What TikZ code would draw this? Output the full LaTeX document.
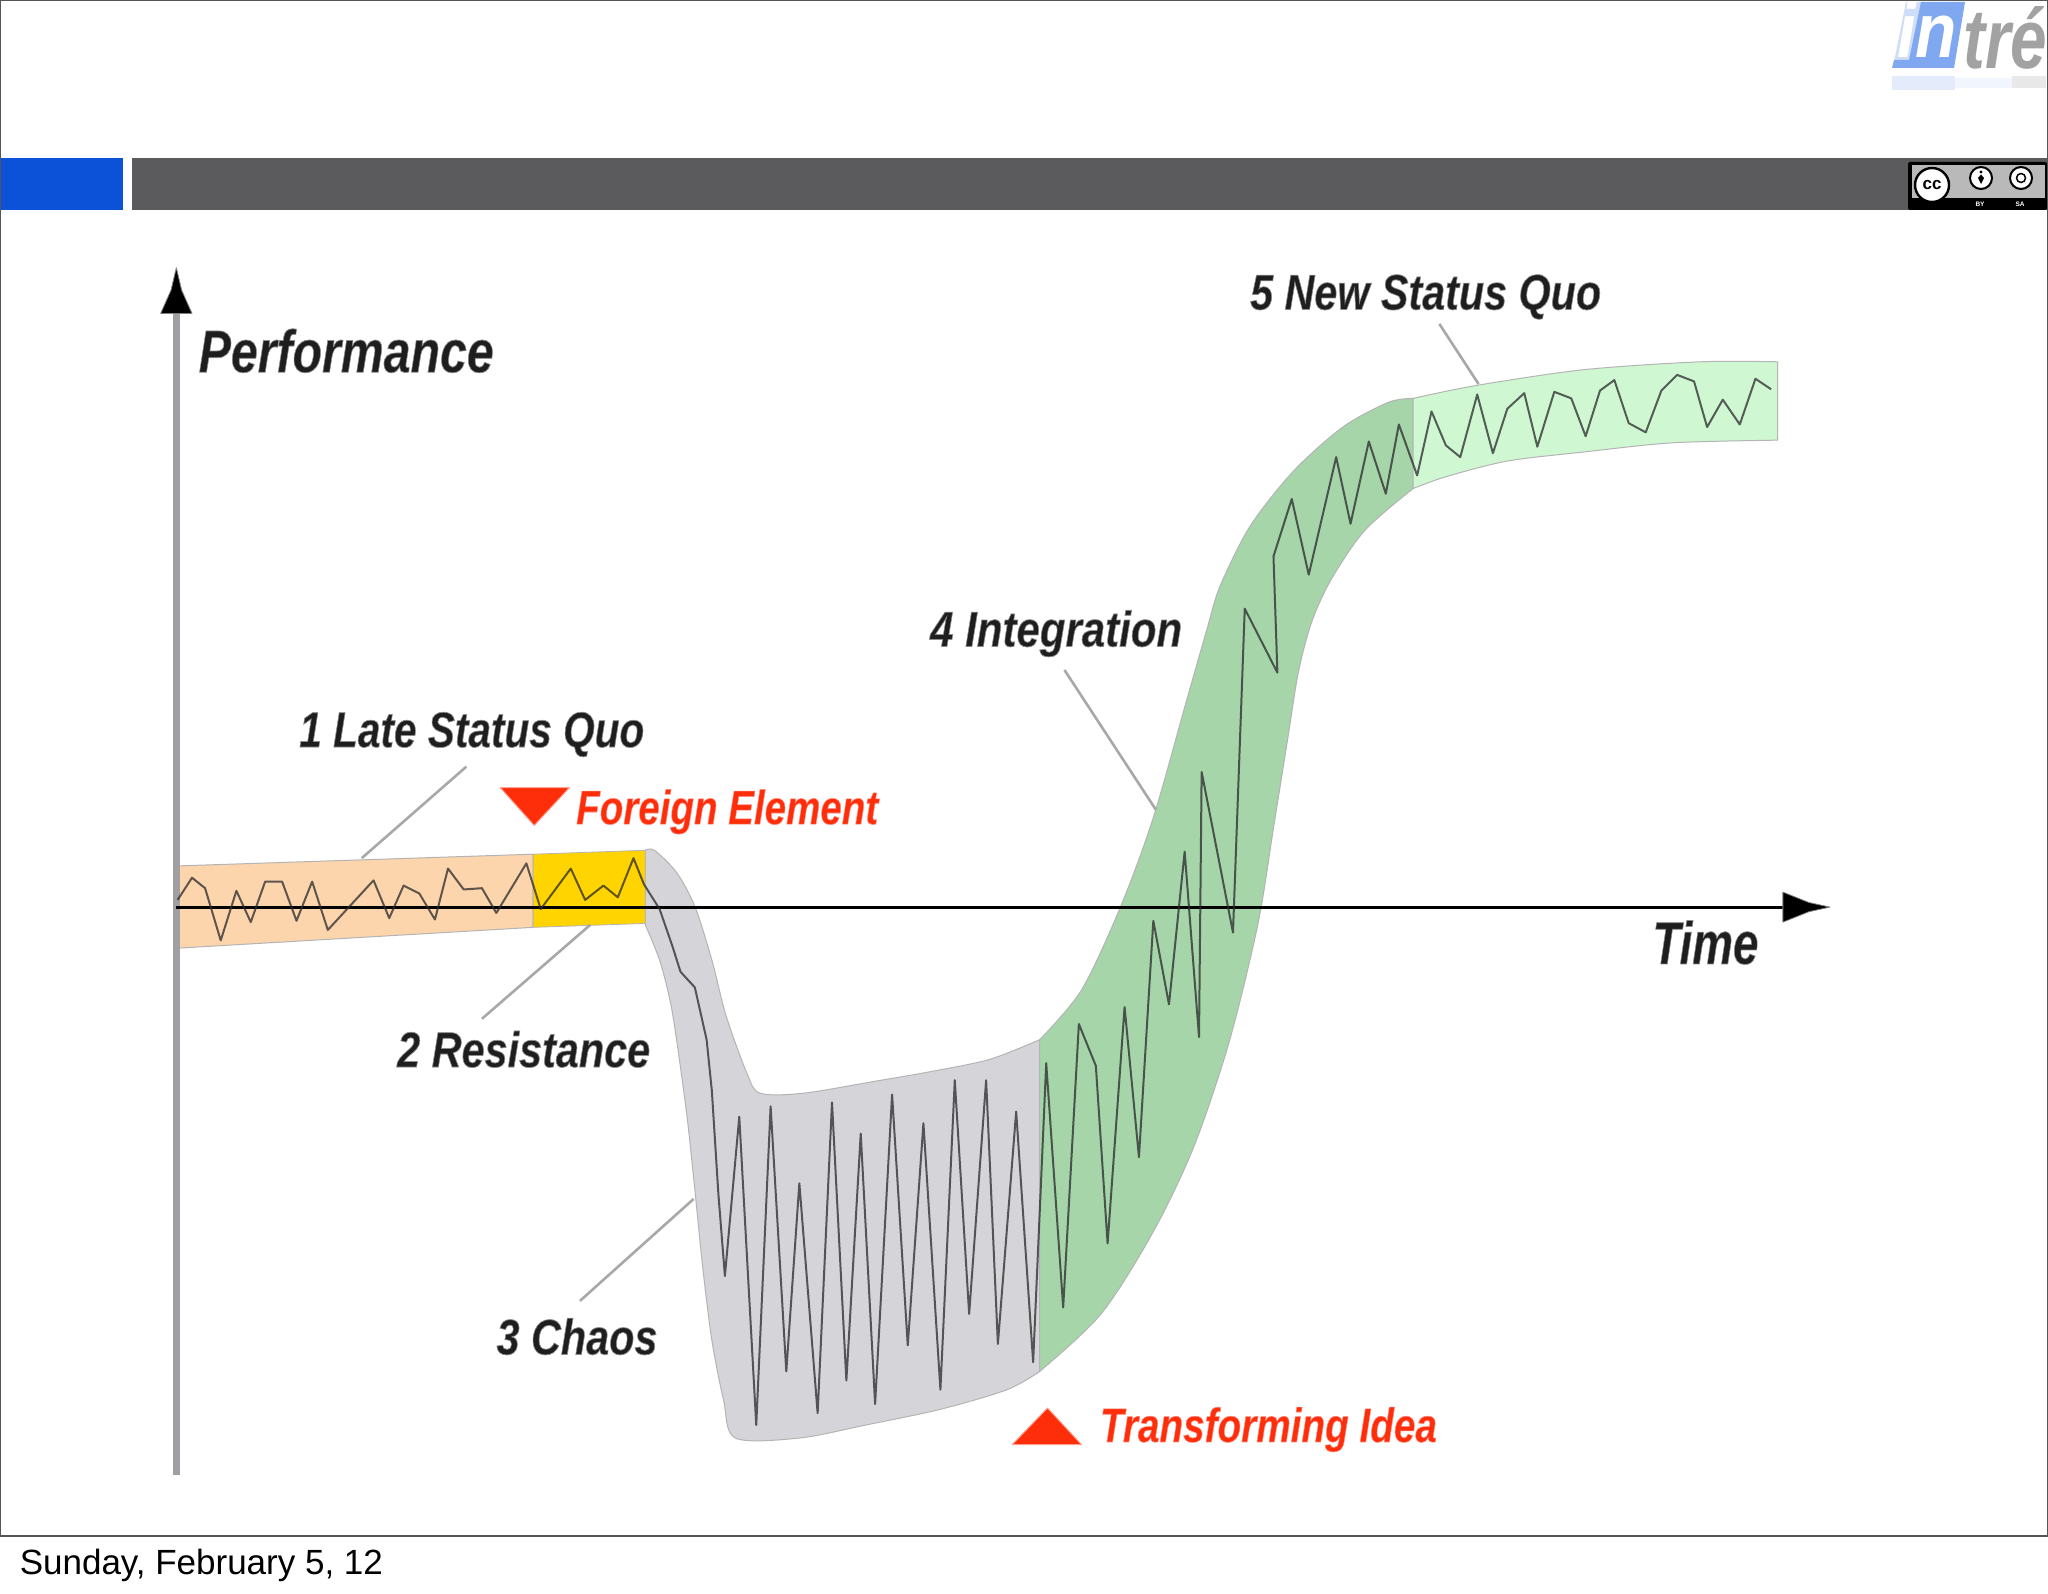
\documentclass[tikz,border=0pt]{standalone}
\usepackage{fontspec}
\usepackage{graphicx}
\setmainfont{Liberation Sans}
\definecolor{framec}{HTML}{555555}
\definecolor{barblue}{HTML}{0B52D8}
\definecolor{bargray}{HTML}{5B5A5C}
\definecolor{axisgray}{HTML}{A09FA3}
\definecolor{orangeb}{HTML}{FCD5AC}
\definecolor{yellowb}{HTML}{FFD400}
\definecolor{grayb}{HTML}{D5D4D8}
\definecolor{greenb}{HTML}{A5D5A8}
\definecolor{lgreenb}{HTML}{CFF8D2}
\definecolor{redc}{HTML}{FF2E0A}
\definecolor{wavec}{HTML}{2A2A2C}
\definecolor{bandedge}{HTML}{B4B4B4}
\definecolor{leader}{HTML}{A8A8A8}
\definecolor{inkfill}{HTML}{1E1E1E}
\definecolor{logoblue}{HTML}{7FA8F0}
\definecolor{logopale}{HTML}{CFDDF8}
\definecolor{logogray}{HTML}{A2A2A2}
\newcommand{\hollowon}{\special{pdf:code 2 Tr 0.75 w 0.55 0.55 0.55 RG}}
\newcommand{\redon}{\special{pdf:code 2 Tr 0.6 w 1 0.55 0.5 RG}}
\newcommand{\hollowoff}{\special{pdf:code 0 Tr 0 0 0 RG}}
\newcommand{\inklabel}[3]{\resizebox{#1pt}{\height}{\fontsize{#2}{#2}\selectfont\bfseries\itshape\hollowon #3\hollowoff}}
\newcommand{\redlabel}[3]{\resizebox{#1pt}{\height}{\fontsize{#2}{#2}\selectfont\bfseries\itshape\redon #3\hollowoff}}
\tikzset{
  x=1.30612pt,y=-1.30612pt,
  band/.style={draw=bandedge,line width=1pt,line join=round},
  wave/.style={draw=wavec,line width=2pt,opacity=.75,line join=round},
  leaderline/.style={draw=leader,line width=2.6pt},
  lab/.style={inner sep=0pt,anchor=base west,text=inkfill},
  redlab/.style={inner sep=0pt,anchor=base west,text=redc},
  redtri/.style={fill=redc,draw=redc!45,line width=1pt,line join=round},
  tipstyle/.style={fill=black,draw=gray,line width=.8pt,line join=round}
}
\begin{document}
\begin{tikzpicture}
\useasboundingbox (0,0) rectangle (1568,1219.66);
\fill[white] (0,0) rectangle (1568,1219.66);
% logo (full-size pixels)
\begin{scope}[x=1pt,y=-1pt]
 \fill[logopale!55] (1892,76) rectangle (1955,90);
 \fill[gray!18] (2012,76) rectangle (2046,88);
 \fill[logopale!30] (1955,78) rectangle (2012,88);
 \fill[logopale] (1906,2) -- (1925,2) -- (1912,62) -- (1894,62) -- cycle;
 \fill[logoblue] (1921,2) -- (1965,2) -- (1954,68) -- (1892,68) -- (1894,60) -- (1909,60) -- cycle;
 \node[inner sep=0pt,anchor=base west,text=white] (logoin) at (1897,58) {\resizebox{60pt}{56pt}{\bfseries\itshape in}};
 \node[inner sep=0pt,anchor=base west,text=logogray] (logotre) at (1963,69) {\resizebox{84pt}{62pt}{\bfseries\itshape tré}};
\end{scope}
% header bars
\fill[barblue] (0,121) rectangle (94,160.5);
\fill[bargray] (101,121) rectangle (1568,160.5);
% cc badge (full-size pixels)
\begin{scope}[x=1pt,y=-1pt]
 \fill[black,rounded corners=2pt] (1908,162) rectangle (2047,210);
 \fill[gray!55!white] (1912,165) rectangle (2045,198);
 \node[circle,draw=black,line width=2.4pt,fill=white,minimum size=34pt,inner sep=0pt,font=\fontsize{17}{17}\selectfont\bfseries] (cc) at (1932,185) {cc};
 \node[circle,draw=black,line width=2pt,fill=white,minimum size=22pt,inner sep=0pt] (by) at (1981,178) {};
 \fill[black] (1981,172) circle (1.6pt);
 \fill[black] (1981,174.5) -- (1984,178) -- (1981,184) -- (1978,178) -- cycle;
 \node[circle,draw=black,line width=2pt,fill=white,minimum size=22pt,inner sep=0pt] (sa) at (2021,178) {};
 \draw[black,line width=1.5pt] (sa) circle (4.5pt);
 \node[text=white,inner sep=0pt,font=\fontsize{6.5}{6.5}\selectfont\bfseries] (bylab) at (1980,204) {BY};
 \node[text=white,inner sep=0pt,font=\fontsize{6.5}{6.5}\selectfont\bfseries] (salab) at (2020,204) {SA};
\end{scope}
% frame
\draw[framec,line width=1.6pt] (0.5,0.5) -- (1567.5,0.5) -- (1567.5,1176) -- (0.5,1176) -- cycle;
% bands
\draw[band,fill=grayb] plot[smooth,tension=.5] coordinates {(494,651) (501,651) (518,668) (532,694) (545,735) (556,778) (572,822) (582,837) (615,837) (669,828) (715,820) (758,811) (796,796)}
 -- plot[smooth,tension=.5] coordinates {(796,1050) (771,1064) (720,1079) (663,1091) (612,1101) (563,1101) (554,1072) (545,1026) (538,970) (532,911) (526,855) (518,796) (513,766) (505,735) (494,708)} -- cycle;
\draw[band,fill=greenb] plot[smooth,tension=.5] coordinates {(796,796) (828,758) (858,694) (883,626) (908,538) (924,482) (934,449) (957,403) (990,361) (1028,327) (1063,308) (1082,305)}
 -- plot[smooth,tension=.5] coordinates {(1082,374) (1045,406) (1019,444) (1004,477) (994,515) (986,565) (975,634) (963,708) (941,798) (914,878) (883,943) (843,1006) (796,1050)} -- cycle;
\draw[band,fill=lgreenb] plot[smooth,tension=.5] coordinates {(1082,305) (1131,295) (1213,283) (1302,277) (1361,277)}
 -- (1361,337) -- plot[smooth,tension=.5] coordinates {(1361,337) (1281,339) (1213,346) (1154,353) (1107,365) (1082,374)} -- cycle;
\fill[yellowb,draw=bandedge,line width=.8pt] (408,654) -- (494,651) -- (494,707) -- (408,710) -- cycle;
\draw[band,fill=orangeb] (135,663) -- (408,654) -- (408,710) -- (135,726) -- cycle;
% leaders
\coordinate (l1a) at (357,587); \coordinate (l1b) at (277,657);
\coordinate (l2a) at (369,780); \coordinate (l2b) at (452,708);
\coordinate (l3a) at (444,996); \coordinate (l3b) at (531,918);
\coordinate (l4a) at (815,513); \coordinate (l4b) at (885,620);
\coordinate (l5a) at (1102,248); \coordinate (l5b) at (1132,294);
\draw[leaderline] (l1a) -- (l1b);
\draw[leaderline] (l2a) -- (l2b);
\draw[leaderline] (l3a) -- (l3b);
\draw[leaderline] (l4a) -- (l4b);
\draw[leaderline] (l5a) -- (l5b);
% axes
\coordinate (orig) at (135,1129);
\coordinate (ytop) at (135,205);
\coordinate (xorg) at (135,694.5);
\coordinate (xend) at (1401,694.5);
\draw[axisgray,line width=7pt] (orig) -- (135,238);
\path[tipstyle] (ytop) -- (139,222) -- (147,240) -- (123,240) -- (131,222) -- cycle;
\draw[black,line width=2.8pt] (xorg) -- (1366,694.5);
\path[tipstyle] (xend) -- (1385,698) -- (1365,706) -- (1365,683) -- (1385,691) -- cycle;
% waveform
\draw[wave] plot coordinates {(136,689) (147,672) (157,680) (169,720) (181,682) (192,706) (203,675) (216,675) (227,705) (239,675) (251,712) (286,674) (298,703) (309,678) (321,684) (333,704) (343,665) (355,681) (369,680) (380,699) (403,661) (414,696) (437,665) (448,689) (462,678) (473,687) (485,657) (493,677) (505,696) (515,725) (521,744) (532,756) (541,796) (545,835) (550,914) (555,977) (566,855) (579,1091) (590,847) (602,1050) (612,906) (626,1082) (637,844) (648,1057) (659,868) (670,1075) (683,838) (695,1030) (707,860) (720,1064) (731,827) (742,1006) (755,827) (764,1029) (778,851) (791,1043) (801,814) (814,1001) (826,784) (839,816) (848,952) (861,771) (872,886) (883,705) (895,769) (907,652) (918,794) (920,591) (944,714) (953,466) (978,515) (975,426) (989,382) (1002,440) (1023,350) (1034,401) (1048,338) (1061,378) (1071,325) (1085,364) (1096,315) (1107,341) (1118,350) (1131,302) (1143,347) (1154,313) (1167,301) (1177,342) (1190,300) (1203,305) (1214,334) (1225,299) (1236,291) (1247,324) (1260,331) (1272,299) (1284,287) (1297,292) (1307,327) (1319,306) (1332,325) (1344,290) (1356,298)};
% triangles
\draw[redtri] (383,603) -- (436,603) -- (409,632) -- cycle;
\draw[redtri] (775,1106) -- (828,1106) -- (802,1078) -- cycle;
% labels
\node[lab] (perf) at (152,285) {\inklabel{295}{60}{Performance}};
\node[lab] (time) at (1265,738) {\inklabel{106}{60}{Time}};
\node[lab] (five) at (957,237) {\inklabel{351}{50}{5 New Status Quo}};
\node[lab] (four) at (712,495) {\inklabel{252}{50}{4 Integration}};
\node[lab] (one) at (229,572) {\inklabel{345}{50}{1 Late Status Quo}};
\node[lab] (two) at (304,817) {\inklabel{253}{50}{2 Resistance}};
\node[lab] (three) at (380,1037) {\inklabel{161}{50}{3 Chaos}};
\node[redlab] (fe) at (441,631) {\redlabel{302}{48}{Foreign Element}};
\node[redlab] (ti) at (842,1104) {\redlabel{337}{48}{Transforming Idea}};
\node[inner sep=0pt,anchor=base west,text=black] (foot) at (15,1205.5) {\fontsize{35}{35}\selectfont Sunday, February 5, 12};
\end{tikzpicture}
\end{document}
